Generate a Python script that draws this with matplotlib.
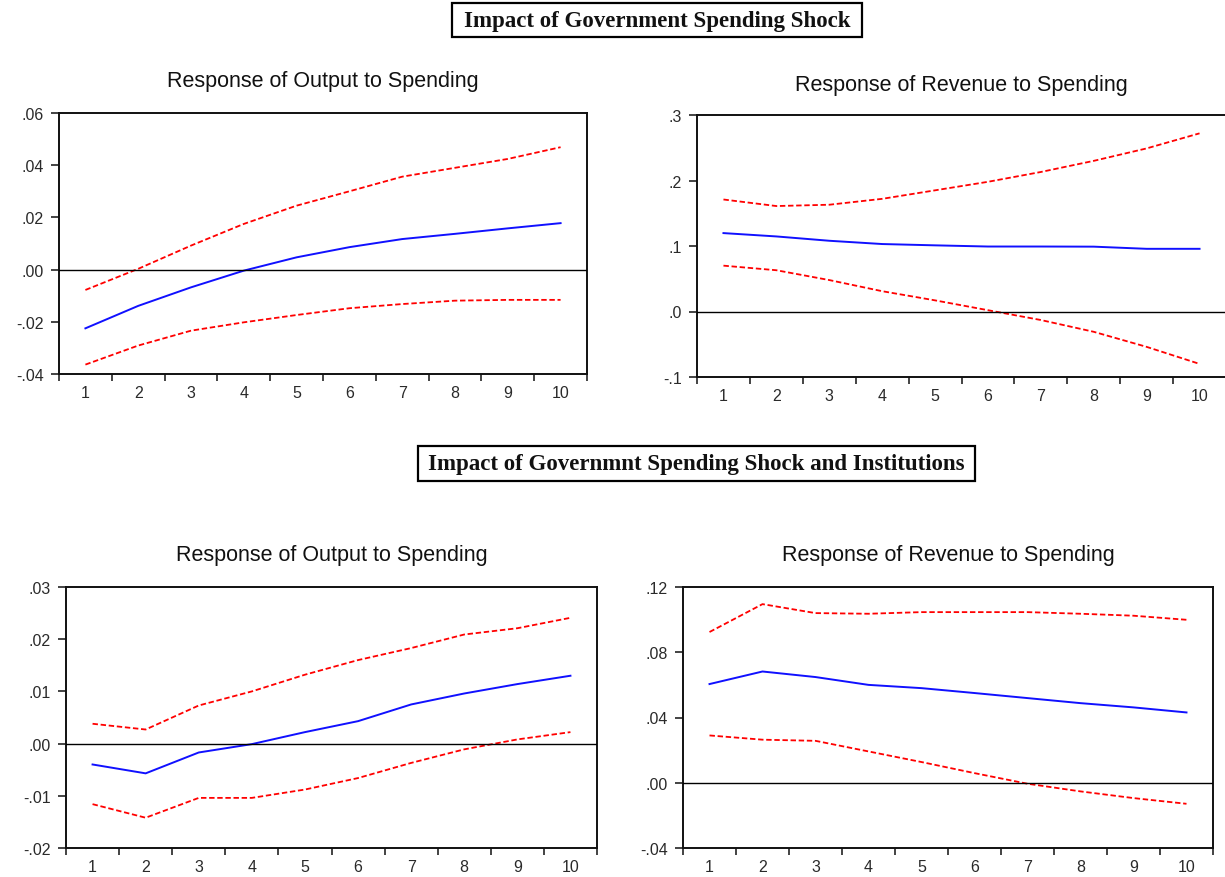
import matplotlib
matplotlib.use("Agg")
import matplotlib.pyplot as plt
from matplotlib.patches import Rectangle

W, H = 1225, 878
fig = plt.figure(figsize=(W / 100, H / 100), dpi=100)
fig.patch.set_facecolor("white")

periods = [1, 2, 3, 4, 5, 6, 7, 8, 9, 10]
period_labels = ["1", "2", "3", "4", "5", "6", "7", "8", "9", "10"]

# Government spending shock: response of output
out_resp = [-0.0225, -0.0139, -0.0068, -0.0004, 0.0047, 0.0086, 0.0117, 0.0137, 0.0158, 0.0178]
out_upper = [-0.0078, 0.0003, 0.0092, 0.0175, 0.0245, 0.0300, 0.0356, 0.0390, 0.0424, 0.0469]
out_lower = [-0.0364, -0.0291, -0.0234, -0.0202, -0.0174, -0.0148, -0.0132, -0.0119, -0.0116, -0.0116]

# Government spending shock: response of revenue
rev_resp = [0.1197, 0.1146, 0.1080, 0.1030, 0.1010, 0.0992, 0.0992, 0.0990, 0.0957, 0.0957]
rev_upper = [0.171, 0.161, 0.163, 0.172, 0.185, 0.198, 0.213, 0.230, 0.249, 0.272]
rev_lower = [0.070, 0.063, 0.048, 0.031, 0.017, 0.002, -0.013, -0.031, -0.054, -0.080]

# Spending shock with institutions: response of output
inst_out_resp = [-0.0040, -0.0057, -0.0017, -0.0001, 0.0022, 0.0043, 0.0075, 0.0096, 0.0114, 0.0130]
inst_out_upper = [0.0038, 0.0027, 0.0073, 0.0100, 0.0132, 0.0160, 0.0183, 0.0209, 0.0221, 0.0241]
inst_out_lower = [-0.0116, -0.0142, -0.0104, -0.0104, -0.0088, -0.0066, -0.0037, -0.0011, 0.0008, 0.0022]

# Spending shock with institutions: response of revenue
inst_rev_resp = [0.0605, 0.0682, 0.0648, 0.0600, 0.0580, 0.0550, 0.0519, 0.0488, 0.0462, 0.0431]
inst_rev_upper = [0.0924, 0.1095, 0.1040, 0.1036, 0.1046, 0.1046, 0.1046, 0.1036, 0.1024, 0.0999]
inst_rev_lower = [0.0290, 0.0264, 0.0257, 0.0192, 0.0127, 0.0059, -0.0006, -0.0053, -0.0094, -0.0129]

title_output = "Response of Output to Spending"
title_revenue = "Response of Revenue to Spending"
header_top = "Impact of Government Spending Shock"
header_bottom = "Impact of Governmnt Spending Shock and Institutions"

yt_out = [-0.04, -0.02, 0.00, 0.02, 0.04, 0.06]
yl_out = ["-.04", "-.02", ".00", ".02", ".04", ".06"]
yt_rev = [-0.1, 0.0, 0.1, 0.2, 0.3]
yl_rev = ["-.1", ".0", ".1", ".2", ".3"]
yt_iout = [-0.02, -0.01, 0.00, 0.01, 0.02, 0.03]
yl_iout = ["-.02", "-.01", ".00", ".01", ".02", ".03"]
yt_irev = [-0.04, 0.00, 0.04, 0.08, 0.12]
yl_irev = ["-.04", ".00", ".04", ".08", ".12"]

SANS = ["Liberation Sans", "DejaVu Sans"]
SERIF = ["Liberation Serif", "DejaVu Serif"]
TEXT_COLOR = "#2a2a2a"


def panel(box, resp, upper, lower, yticks, ylabels, title, title_y):
    left, top, right, bottom = box
    ax = fig.add_axes([left / W, 1 - bottom / H, (right - left) / W, (bottom - top) / H])
    ax.plot(periods, upper, color="#ff0000", lw=1.3, ls=(0, (3, 1.5)), zorder=2)
    ax.plot(periods, lower, color="#ff0000", lw=1.3, ls=(0, (3, 1.5)), zorder=2)
    ax.plot(periods, resp, color="#1010ff", lw=1.4, zorder=3)
    ax.axhline(0, color="black", lw=1.0, zorder=4)

    ax.set_xlim(0.5, 10.5)
    ax.set_ylim(yticks[0], yticks[-1])
    ax.set_xticks([p - 0.5 for p in periods] + [10.5])
    ax.set_xticklabels([])
    ax.set_xticks(periods, minor=True)
    ax.set_xticklabels(period_labels, minor=True)
    ax.set_yticks(yticks)
    ax.set_yticklabels(ylabels)

    ax.tick_params(axis="x", which="major", direction="out", length=5, width=1.1, color="#111")
    ax.tick_params(axis="x", which="minor", length=0, pad=8, labelsize=11.5, labelcolor=TEXT_COLOR)
    ax.tick_params(axis="y", which="major", direction="out", length=6, width=1.1, pad=5,
                   labelsize=11.5, labelcolor=TEXT_COLOR, color="#111")
    for lab in ax.get_xticklabels(minor=True) + ax.get_yticklabels():
        lab.set_family(SANS)
    for sp in ax.spines.values():
        sp.set_linewidth(1.4)
        sp.set_color("#111")

    fig.text((left + right) / 2 / W, 1 - title_y / H, title, ha="center", va="baseline",
             fontsize=15.5, family=SANS, color="#111")
    return ax


panel((59, 114, 587, 375), out_resp, out_upper, out_lower, yt_out, yl_out, title_output, 87)
panel((697, 116, 1226, 378), rev_resp, rev_upper, rev_lower, yt_rev, yl_rev, title_revenue, 91)
panel((66, 588, 597, 849), inst_out_resp, inst_out_upper, inst_out_lower, yt_iout, yl_iout, title_output, 561)
panel((683, 588, 1213, 849), inst_rev_resp, inst_rev_upper, inst_rev_lower, yt_irev, yl_irev, title_revenue, 561)


def header(box, text):
    left, top, right, bottom = box
    fig.patches.append(Rectangle((left / W, 1 - bottom / H), (right - left) / W, (bottom - top) / H,
                                 transform=fig.transFigure, fill=False, edgecolor="black",
                                 linewidth=1.6))
    fig.text((left + right) / 2 / W, 1 - (top + bottom) / 2 / H, text, ha="center", va="center",
             fontsize=16.5, family=SERIF, fontweight="bold", color="#111")


header((452, 4, 862, 38), header_top)
header((418, 447, 975, 482), header_bottom)

fig.savefig("out.png", dpi=100, facecolor="white")
